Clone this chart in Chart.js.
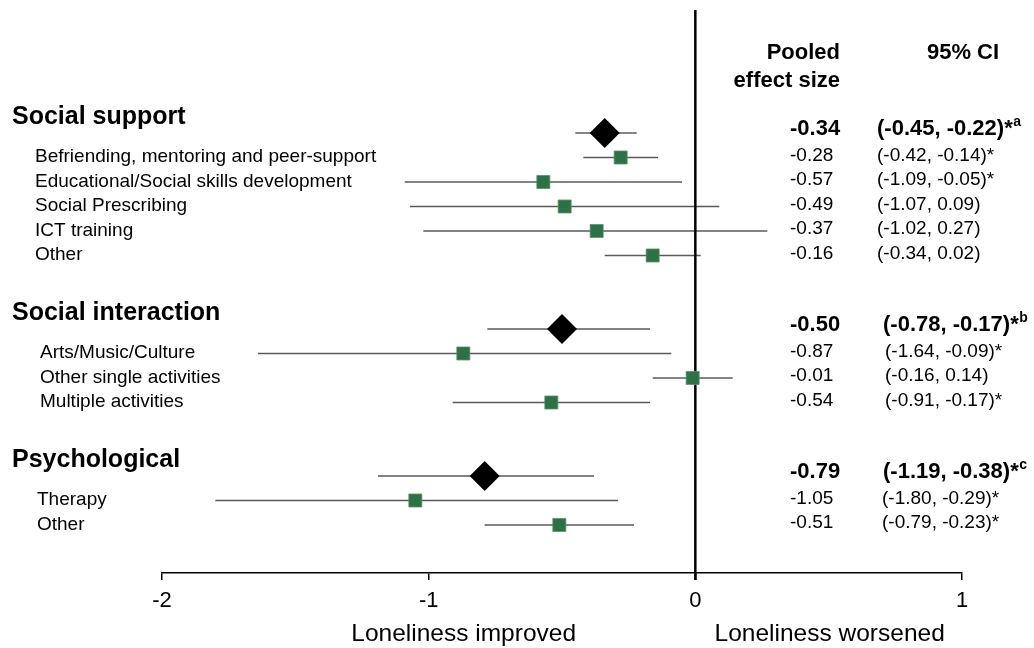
<!DOCTYPE html>
<html>
<head>
<meta charset="utf-8">
<title>Loneliness interventions – pooled effect sizes</title>
<script src="https://cdn.jsdelivr.net/npm/chart.js@4.4.1/dist/chart.umd.min.js"></script>
<style>
  html, body { margin: 0; padding: 0; background: #ffffff; }
  #wrap { width: 1034px; height: 648px; position: relative; }
</style>
</head>
<body>
<div id="wrap"><canvas id="forest"></canvas></div>
<script>
// ---- data -------------------------------------------------------------
const rowLabels = [
  'Social support',
  'Befriending, mentoring and peer-support',
  'Educational/Social skills development',
  'Social Prescribing',
  'ICT training',
  'Other',
  'Social interaction',
  'Arts/Music/Culture',
  'Other single activities',
  'Multiple activities',
  'Psychological',
  'Therapy',
  'Other'
];
const rowGroup  = [0, 0, 0, 0, 0, 0, 1, 1, 1, 1, 2, 2, 2];
const isPooled  = [true, false, false, false, false, false, true, false, false, false, true, false, false];
const rowSlot   = [0, 1, 2, 3, 4, 5, 8, 9, 10, 11, 14, 15, 16];
const effect    = [-0.34, -0.28, -0.57, -0.49, -0.37, -0.16, -0.50, -0.87, -0.01, -0.54, -0.79, -1.05, -0.51];
const ciLow     = [-0.45, -0.42, -1.09, -1.07, -1.02, -0.34, -0.78, -1.64, -0.16, -0.91, -1.19, -1.80, -0.79];
const ciHigh    = [-0.22, -0.14, -0.05,  0.09,  0.27,  0.02, -0.17, -0.09,  0.14, -0.17, -0.38, -0.29, -0.23];
const sigMark   = ['*', '*', '*', '', '', '', '*', '*', '', '*', '*', '*', '*'];
const noteMark  = ['a', '', '', '', '', '', 'b', '', '', '', 'c', '', ''];
const xTicks    = [-2, -1, 0, 1];
const axisNotes = ['Loneliness improved', 'Loneliness worsened'];
const colHeads  = [['Pooled', 'effect size'], ['95% CI']];

// ---- styling ----------------------------------------------------------
const FONT = "'Liberation Sans', Arial, Helvetica, sans-serif";
const GREEN = '#2f7146';
const WHISKER = '#5a5a5a';

// ---- datasets ---------------------------------------------------------
const whiskerSets = rowLabels.map((lab, i) => ({
  label: 'ci-' + i,
  type: 'line',
  data: [{ x: ciLow[i], y: rowSlot[i] }, { x: ciHigh[i], y: rowSlot[i] }],
  borderColor: WHISKER,
  borderWidth: 1.5,
  pointRadius: 0,
  pointHoverRadius: 0,
  fill: false,
  order: 5
}));

const squareSet = {
  label: 'subgroups',
  type: 'scatter',
  data: rowLabels.map((l, i) => isPooled[i] ? null : { x: effect[i], y: rowSlot[i] }).filter(Boolean),
  pointStyle: 'rect',
  pointRadius: 9.2,
  pointHoverRadius: 9.2,
  backgroundColor: GREEN,
  borderColor: '#5d8f6c',
  borderWidth: 0.8,
  order: 2
};

const diamondSet = {
  label: 'pooled',
  type: 'scatter',
  data: rowLabels.map((l, i) => isPooled[i] ? { x: effect[i], y: rowSlot[i] } : null).filter(Boolean),
  pointStyle: 'rectRot',
  pointRadius: 15,
  pointHoverRadius: 15,
  backgroundColor: '#000000',
  borderColor: '#000000',
  borderWidth: 0,
  order: 1
};

// ---- plugins ----------------------------------------------------------
// vertical line of no effect, drawn over the whiskers but under the markers
const zeroLine = {
  id: 'zeroLine',
  beforeDatasetDraw(chart, args) {
    if (chart.data.datasets[args.index].label !== 'subgroups') return;
    const { ctx, chartArea, scales } = chart;
    const x = scales.x.getPixelForValue(0);
    ctx.save();
    ctx.strokeStyle = '#000';
    ctx.lineWidth = 2.5;
    ctx.beginPath();
    ctx.moveTo(x, chartArea.top);
    ctx.lineTo(x, chartArea.bottom + 7);
    ctx.stroke();
    ctx.restore();
  }
};

// row labels, effect-size and CI columns, axis notes
const textLayer = {
  id: 'textLayer',
  afterDraw(chart) {
    const { ctx, scales } = chart;
    const y = scales.y;
    const xs = scales.x;
    ctx.save();
    ctx.fillStyle = '#000';
    ctx.textBaseline = 'middle';

    // column headings
    ctx.font = 'bold 22px ' + FONT;
    ctx.textAlign = 'right';
    ctx.fillText(colHeads[0][0], 840, 53);
    ctx.fillText(colHeads[0][1], 840, 81);
    ctx.textAlign = 'center';
    ctx.fillText(colHeads[1][0], 963, 53);

    const subX = [35, 40, 37];
    const ciX = [877, 885, 882];
    const ciXBold = [877, 883, 883];

    rowLabels.forEach((lab, i) => {
      const py = y.getPixelForValue(rowSlot[i]);
      const g = rowGroup[i];
      ctx.textAlign = 'left';
      if (isPooled[i]) {
        ctx.font = 'bold 25px ' + FONT;
        ctx.fillText(lab, 12, py - 16);
        ctx.font = 'bold 22px ' + FONT;
        ctx.fillText(effect[i].toFixed(2), 790, py - 4.5);
        const ci = '(' + ciLow[i].toFixed(2) + ', ' + ciHigh[i].toFixed(2) + ')' + sigMark[i];
        ctx.fillText(ci, ciXBold[g], py - 4.5);
        const w = ctx.measureText(ci).width;
        ctx.font = 'bold 14px ' + FONT;
        ctx.fillText(noteMark[i], ciXBold[g] + w + 0.5, py - 11);
      } else {
        ctx.font = '19px ' + FONT;
        ctx.fillText(lab, subX[g], py - 0.5);
        ctx.fillText(effect[i].toFixed(2), 790, py - 2);
        const ci = '(' + ciLow[i].toFixed(2) + ', ' + ciHigh[i].toFixed(2) + ')' + sigMark[i];
        ctx.fillText(ci, ciX[g], py - 2);
      }
    });

    // direction notes under the axis
    ctx.font = '24.5px ' + FONT;
    ctx.textAlign = 'center';
    ctx.fillText(axisNotes[0], (xs.getPixelForValue(-2) + xs.getPixelForValue(0)) / 2 + 35, 634);
    ctx.fillText(axisNotes[1], (xs.getPixelForValue(0) + xs.getPixelForValue(1)) / 2 + 1, 634);
    ctx.restore();
  }
};

// ---- chart ------------------------------------------------------------
new Chart(document.getElementById('forest'), {
  type: 'scatter',
  data: { datasets: [...whiskerSets, squareSet, diamondSet] },
  options: {
    responsive: true,
    maintainAspectRatio: false,
    animation: false,
    events: [],
    layout: { autoPadding: false, padding: { left: 162, right: 72, top: 10, bottom: 0 } },
    plugins: {
      legend: { display: false },
      tooltip: { enabled: false },
      title: { display: false }
    },
    scales: {
      x: {
        type: 'linear',
        min: xTicks[0],
        max: xTicks[xTicks.length - 1],
        afterBuildTicks(scale) { scale.ticks = xTicks.map(v => ({ value: v })); },
        afterFit(scale) { scale.height = 75; },
        ticks: {
          color: '#000',
          padding: 8,
          font: { family: FONT, size: 22 },
          callback: v => String(v)
        },
        grid: {
          drawOnChartArea: false,
          drawTicks: true,
          tickLength: 7,
          color: '#000',
          lineWidth: 1.5
        },
        border: { display: true, color: '#000', width: 1.5 }
      },
      y: {
        type: 'linear',
        display: false,
        reverse: true,
        min: -5.02,
        max: 17.96
      }
    }
  },
  plugins: [zeroLine, textLayer]
});
</script>
</body>
</html>
